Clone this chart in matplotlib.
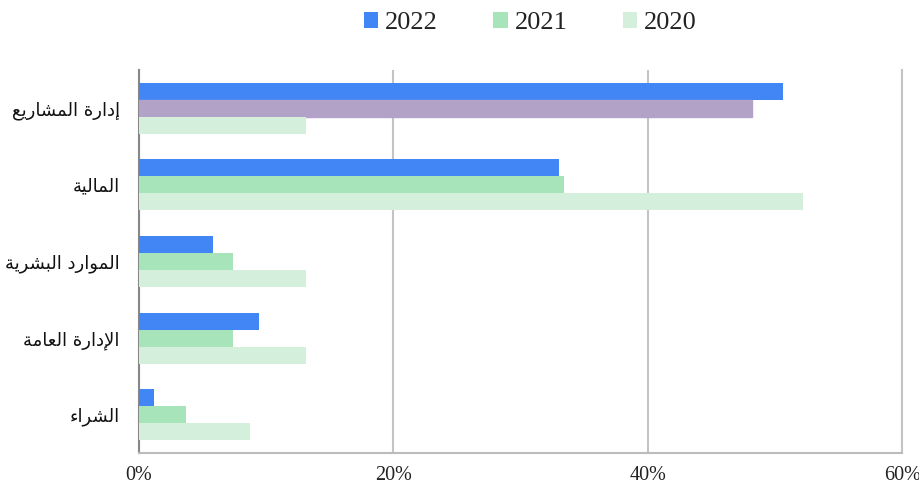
import matplotlib
matplotlib.use("Agg")
import matplotlib.pyplot as plt
import matplotlib.transforms as mtransforms
import numpy as np

# Departments (top to bottom) and share of responses per year, in percent
categories = ["إدارة المشاريع", "المالية", "الموارد البشرية", "الإدارة العامة", "الشراء"]
years = ["2022", "2021", "2020"]
v2022 = [50.6, 33.0, 5.8, 9.4, 1.2]
v2021 = [48.2, 33.4, 7.4, 7.4, 3.7]
v2020 = [13.1, 52.2, 13.1, 13.1, 8.7]
xticks = [0, 20, 40, 60]

colors = ["#4285F4", "#A8E4BA", "#D4F0DC"]
purple = "#B3A2C8"

# Arabic contextual forms (isolated, final, initial, medial), since matplotlib does no shaping
FORMS = {
    "ا": ("\uFE8D", "\uFE8E", None, None),
    "إ": ("\uFE87", "\uFE88", None, None),
    "د": ("\uFEA9", "\uFEAA", None, None),
    "ر": ("\uFEAD", "\uFEAE", None, None),
    "و": ("\uFEED", "\uFEEE", None, None),
    "ة": ("\uFE93", "\uFE94", None, None),
    "ء": ("\uFE80", "\uFE80", None, None),
    "ب": ("\uFE8F", "\uFE90", "\uFE91", "\uFE92"),
    "ش": ("\uFEB5", "\uFEB6", "\uFEB7", "\uFEB8"),
    "ع": ("\uFEC9", "\uFECA", "\uFECB", "\uFECC"),
    "ل": ("\uFEDD", "\uFEDE", "\uFEDF", "\uFEE0"),
    "م": ("\uFEE1", "\uFEE2", "\uFEE3", "\uFEE4"),
    "ي": ("\uFEF1", "\uFEF2", "\uFEF3", "\uFEF4"),
    "\u0001": ("\uFEFB", "\uFEFC", None, None),  # lam-alef
    "\u0002": ("\uFEF9", "\uFEFA", None, None),  # lam-alef with hamza below
}


def shape(text):
    s = text.replace("لا", "\u0001").replace("لإ", "\u0002")
    out = []
    for i, ch in enumerate(s):
        if ch not in FORMS:
            out.append(ch)
            continue
        prev = s[i - 1] if i > 0 else None
        nxt = s[i + 1] if i + 1 < len(s) else None
        joins_prev = prev in FORMS and FORMS[prev][2] is not None
        joins_next = FORMS[ch][2] is not None and nxt in FORMS
        iso, fin, ini, med = FORMS[ch]
        if joins_prev and joins_next:
            out.append(med)
        elif joins_prev:
            out.append(fin)
        elif joins_next:
            out.append(ini)
        else:
            out.append(iso)
    return "".join(out)[::-1]


fig = plt.figure(figsize=(9.19, 4.88), dpi=100)
ax = fig.add_axes([0.1513, 0.0717, 0.8303, 0.7849])

n = len(categories)
y = np.arange(n)
h = 0.222
series = [v2022, v2021, v2020]
containers = []
for k, vals in enumerate(series):
    bars = ax.barh(y + (k - 1) * h, vals, height=h, color=colors[k], label=years[k], zorder=3)
    containers.append(bars)

ax.set_ylim(n - 0.5, -0.5)
ax.set_xlim(0, 60)
ax.set_xticks(xticks)
ax.set_xticklabels([f"{t}%" for t in xticks], family="Liberation Serif", fontsize=14.5, color="#222222")
# nudge the last label left so it stays inside the canvas
last = ax.get_xticklabels()[-1]
last.set_transform(last.get_transform() + mtransforms.ScaledTranslation(-0.035, 0, fig.dpi_scale_trans))
ax.set_yticks(y)
ax.set_yticklabels([shape(c) for c in categories], family=["DejaVu Sans"], fontsize=13, color="#111111")
ax.tick_params(axis="both", length=0)
ax.tick_params(axis="x", pad=9)
ax.tick_params(axis="y", pad=14)

ax.xaxis.grid(True, color="#c4c4c4", linewidth=1.5, zorder=0)
ax.spines["top"].set_visible(False)
ax.spines["right"].set_color("#c4c4c4")
ax.spines["right"].set_linewidth(1.5)
ax.spines["left"].set_color("#888888")
ax.spines["left"].set_linewidth(1.5)
ax.spines["bottom"].set_color("#bbbbbb")
ax.spines["bottom"].set_linewidth(1.5)

leg = fig.legend(loc="center", bbox_to_anchor=(0.577, 0.953), ncol=3, frameon=False,
                 prop={"family": "Liberation Serif", "size": 19},
                 handlelength=0.55, handleheight=0.55, handletextpad=0.25, columnspacing=2.1)
for t in leg.get_texts():
    t.set_color("#222222")

# highlighted 2021 bar for project management
containers[1][0].set_color(purple)

fig.savefig("out.png", dpi=100)
